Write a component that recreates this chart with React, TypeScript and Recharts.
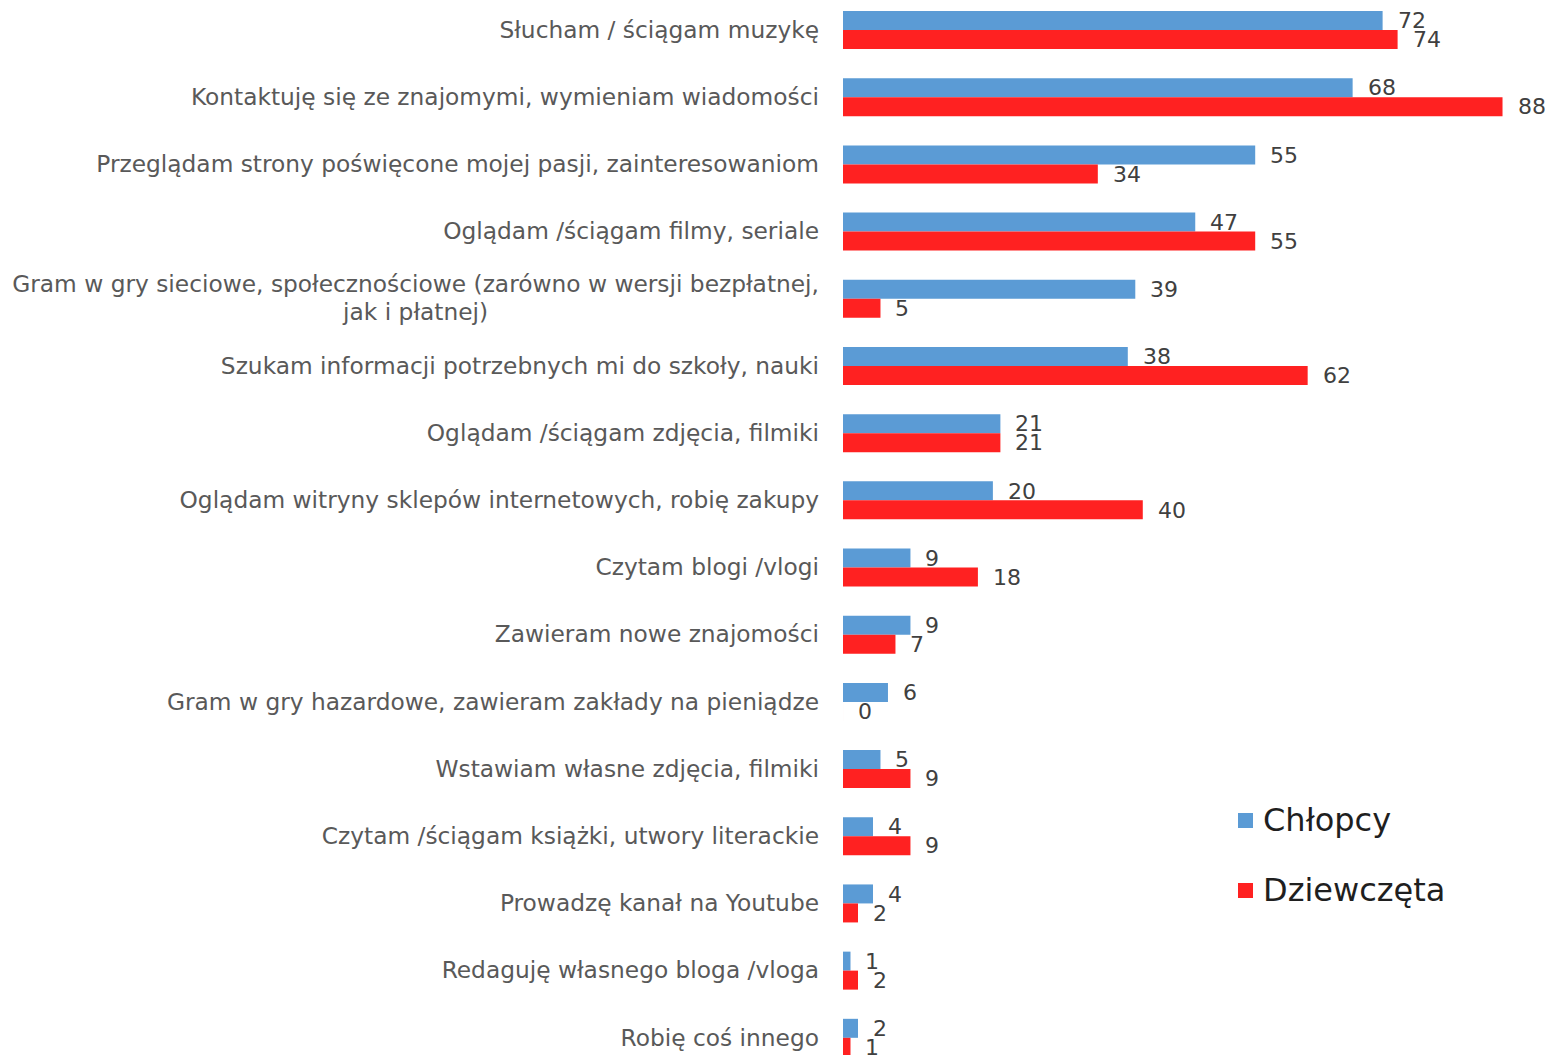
import { BarChart, Bar, XAxis, YAxis, LabelList } from 'recharts';

const categories = [
  'Słucham / ściągam muzykę',
  'Kontaktuję się ze znajomymi, wymieniam wiadomości',
  'Przeglądam strony poświęcone mojej pasji, zainteresowaniom',
  'Oglądam /ściągam filmy, seriale',
  'Gram w gry sieciowe, społecznościowe (zarówno w wersji bezpłatnej,\njak i płatnej)',
  'Szukam informacji potrzebnych mi do szkoły, nauki',
  'Oglądam /ściągam zdjęcia, filmiki',
  'Oglądam witryny sklepów internetowych, robię zakupy',
  'Czytam blogi /vlogi',
  'Zawieram nowe znajomości',
  'Gram w gry hazardowe, zawieram zakłady na pieniądze',
  'Wstawiam własne zdjęcia, filmiki',
  'Czytam /ściągam książki, utwory literackie',
  'Prowadzę kanał na Youtube',
  'Redaguję własnego bloga /vloga',
  'Robię coś innego',
];
const chlopcy = [72, 68, 55, 47, 39, 38, 21, 20, 9, 9, 6, 5, 4, 4, 1, 2];
const dziewczeta = [74, 88, 34, 55, 5, 62, 21, 40, 18, 7, 0, 9, 9, 2, 2, 1];

const data = categories.map((name, i) => ({ name, chlopcy: chlopcy[i], dziewczeta: dziewczeta[i] }));

const FONT = '"DejaVu Sans", sans-serif';
const BLUE = '#5B9BD5';
const RED = '#FF2121';
const TICK_SIZE = 23.3;

const measure = (text: string, size: number) => {
  const ctx = document.createElement('canvas').getContext('2d');
  if (!ctx) return text.length * size * 0.6;
  ctx.font = `${size}px ${FONT}`;
  return ctx.measureText(text).width;
};

const CategoryTick = ({ x, y, payload }: any) => {
  const lines = String(payload.value).split('\n');
  if (lines.length === 1) {
    return (
      <text x={x} y={y} dy="0.35em" textAnchor="end" fill="#595959" fontSize={TICK_SIZE} fontFamily={FONT}>
        {lines[0]}
      </text>
    );
  }
  const w = measure(lines[0], TICK_SIZE);
  const cx = x - w / 2;
  return (
    <text y={y - 14} fill="#595959" fontSize={TICK_SIZE} fontFamily={FONT} textAnchor="middle">
      {lines.map((l, i) => (
        <tspan key={i} x={cx} dy={i === 0 ? '0.35em' : 28}>
          {l}
        </tspan>
      ))}
    </text>
  );
};

const ValueLabel = ({ x, y, width, height, value }: any) => (
  <text
    x={Number(x) + Math.round(Number(width || 0)) + 15}
    y={Number(y) + Number(height) / 2}
    dy="0.35em"
    fill="#404040"
    fontSize={22}
    fontFamily={FONT}
  >
    {value}
  </text>
);

// zero-length bars are dropped by recharts, keep a hairline so the "0" label still shows
const keepZero = (v: any) => (v === 0 ? 0.01 : 0);

const legendItems = [
  { label: 'Chłopcy', color: BLUE },
  { label: 'Dziewczęta', color: RED },
];

export default function App() {
  return (
    <div style={{ position: 'absolute', top: 0, left: 0, width: 1545, height: 1055, overflow: 'hidden', background: '#fff' }}>
      <div style={{ position: 'absolute', top: -4, left: 0 }}>
        <BarChart
          width={1545}
          height={1075}
          data={data}
          layout="vertical"
          margin={{ top: 0, right: 5, bottom: 0, left: 0 }}
          barGap={0}
          barSize={19}
        >
          <XAxis type="number" domain={[0, 93]} hide />
          <YAxis
            type="category"
            dataKey="name"
            width={843}
            axisLine={false}
            tickLine={false}
            tickSize={0}
            tickMargin={24}
            interval={0}
            tick={<CategoryTick />}
          />
          <Bar dataKey="chlopcy" name="Chłopcy" fill={BLUE} isAnimationActive={false}>
            <LabelList dataKey="chlopcy" content={<ValueLabel />} />
          </Bar>
          <Bar dataKey="dziewczeta" name="Dziewczęta" fill={RED} minPointSize={keepZero} isAnimationActive={false}>
            <LabelList dataKey="dziewczeta" content={<ValueLabel />} />
          </Bar>
        </BarChart>
      </div>
      <div style={{ position: 'absolute', left: 1238, top: 785, fontFamily: FONT, fontSize: 32, color: '#1f1f1f' }}>
        {legendItems.map((it) => (
          <div key={it.label} style={{ display: 'flex', alignItems: 'center', height: 70 }}>
            <span style={{ width: 15, height: 15, background: it.color, display: 'inline-block', marginRight: 10 }} />
            <span>{it.label}</span>
          </div>
        ))}
      </div>
    </div>
  );
}
